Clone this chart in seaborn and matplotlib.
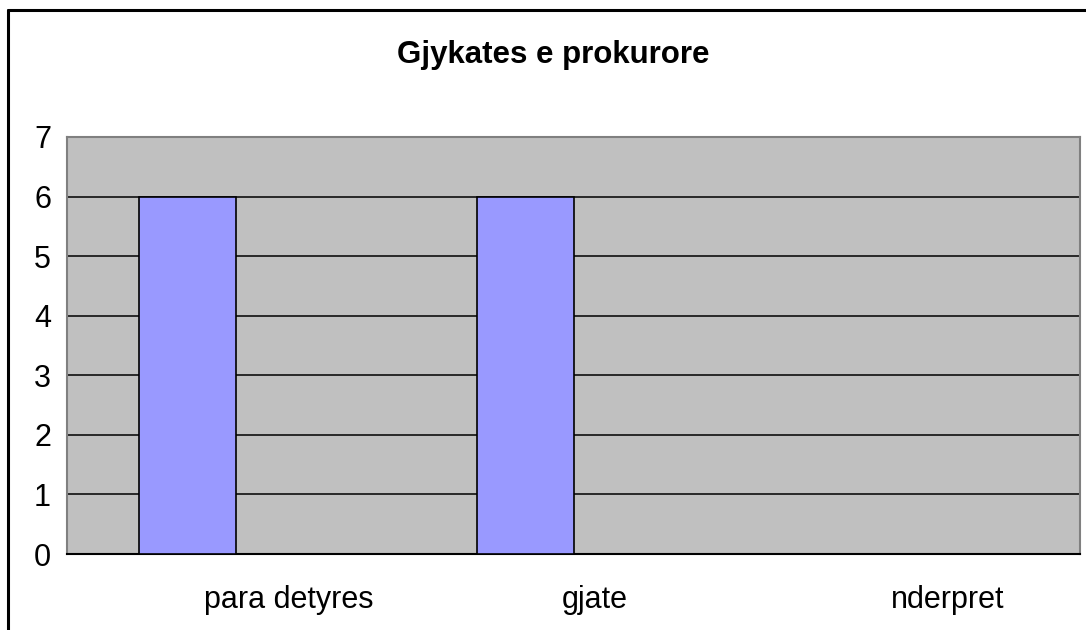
import numpy as np
import pandas as pd
import seaborn as sns
import matplotlib.pyplot as plt
import matplotlib.transforms as mtransforms
from matplotlib.lines import Line2D

# te dhenat e grafikut
kategorite = ["para detyres", "gjate", "nderpret"]
seria_1 = [6, 6, 0]
seria_2 = [np.nan, np.nan, np.nan]  # seria e dyte bosh (ze vend ne grup)
seri_emrat = ["Seria 1", "Seria 2"]
titulli = "Gjykates e prokurore"

df = pd.DataFrame({
    "kategoria": kategorite * 2,
    "vlera": seria_1 + seria_2,
    "seria": [seri_emrat[0]] * 3 + [seri_emrat[1]] * 3,
})

sns.set_style("white")
plt.rcParams["font.family"] = ["Liberation Sans", "DejaVu Sans"]
plt.rcParams["text.color"] = "black"
plt.rcParams["xtick.labelcolor"] = "black"
plt.rcParams["ytick.labelcolor"] = "black"

fig = plt.figure(figsize=(10.86, 6.30), dpi=100)
ax = fig.add_axes([67 / 1086, (630 - 554) / 630, (1080 - 67) / 1086, (554 - 137) / 630])
ax.set_facecolor("#C0C0C0")

sns.barplot(data=df, x="kategoria", y="vlera", hue="seria", hue_order=seri_emrat,
            order=kategorite, palette=["#9999FF", "#9999FF"], saturation=1, width=0.571,
            edgecolor="black", linewidth=1.2, legend=False, ax=ax, zorder=3)

ax.set_xlim(-0.5, 2.5)
ax.set_ylim(0, 7)
ax.set_yticks(range(0, 8))
ax.yaxis.grid(True, color="black", linewidth=1.1, zorder=1)
ax.set_axisbelow(True)
ax.set_xlabel("")
ax.set_ylabel("")

for s in ax.spines.values():
    s.set_visible(True)
    s.set_color("#808080")
    s.set_linewidth(1.5)
ax.spines["bottom"].set_color("black")

# viza ne kufijte e kategorive, etiketat ne qender
ax.set_xticks([0, 1, 2])
ax.set_xticklabels(kategorite)
ax.set_xticks([-0.5, 0.5, 1.5, 2.5], minor=True)
ax.tick_params(axis="x", which="major", length=0, pad=22, labelsize=22)
ax.tick_params(axis="x", which="minor", length=6, width=1.2, color="#808080", direction="out")
ax.tick_params(axis="y", length=6.5, width=1.2, color="#808080", direction="out",
               pad=5, labelsize=22)

# zhvendosje e vogel e etiketave si ne origjinal
zhvendosjet = [0.53, 0.21, 0.37]
for lbl, dx in zip(ax.get_xticklabels(), zhvendosjet):
    lbl.set_transform(lbl.get_transform() + mtransforms.ScaledTranslation(dx, 0, fig.dpi_scale_trans))

fig.text(553 / 1086, 1 - 63 / 630, titulli, ha="center", va="baseline",
         fontsize=22.5, fontweight="bold", color="black")

# korniza e jashtme
fig.add_artist(Line2D([8 / 1086, 1], [1 - 10 / 630, 1 - 10 / 630], color="black", lw=2.2,
                      transform=fig.transFigure))
fig.add_artist(Line2D([8 / 1086, 8 / 1086], [0, 1 - 10 / 630], color="black", lw=2.2,
                      transform=fig.transFigure))

fig.savefig("out.png", dpi=100)
